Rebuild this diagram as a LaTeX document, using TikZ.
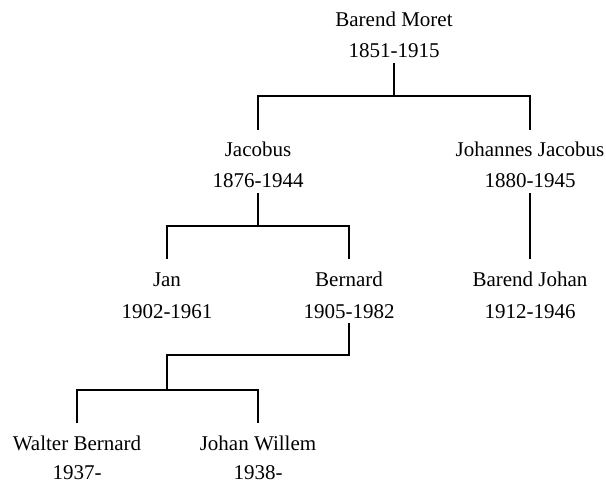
\documentclass[tikz,border=0pt]{standalone}
\usepackage{fontspec}
\setmainfont{Liberation Serif}
\begin{document}
\begin{tikzpicture}[x=1bp,y=-1bp,
  namebox/.style={inner sep=0pt, anchor=base, text height=27bp, text depth=0pt, font=\fontsize{21bp}{25bp}\selectfont},
  datebox/.style={inner sep=0pt, anchor=base, text height=15bp, text depth=5bp, font=\fontsize{21bp}{25bp}\selectfont},
  lastdate/.style={datebox, text depth=0pt},
  link/.style={draw=black, line width=2bp}]
\useasboundingbox (0,0) rectangle (606,483);
% generation 1
\node[namebox] (bmN) at (394,27) {Barend Moret};
\node[datebox] (bmD) at (394,58) {1851-1915};
% generation 2
\node[namebox] (jaN) at (258,157) {Jacobus};
\node[datebox] (jaD) at (258,188) {1876-1944};
\node[namebox] (jjN) at (530,157) {Johannes Jacobus};
\node[datebox] (jjD) at (530,188) {1880-1945};
% generation 3
\node[namebox] (jnN) at (167,286) {Jan};
\node[datebox] (jnD) at (167,318) {1902-1961};
\node[namebox] (beN) at (349,286) {Bernard};
\node[datebox] (beD) at (349,318) {1905-1982};
\node[namebox] (bjN) at (530,286) {Barend Johan};
\node[datebox] (bjD) at (530,318) {1912-1946};
% generation 4
\node[namebox] (wbN) at (77,450) {Walter Bernard};
\node[lastdate] (wbD) at (77,479) {1937-};
\node[namebox] (jwN) at (258,450) {Johan Willem};
\node[lastdate] (jwD) at (258,479) {1938-};
% junctions
\coordinate (bmJ) at (394,96);
\coordinate (jaJ) at (258,226);
\coordinate (beJ) at (167,390);
% connectors
\draw[link] (bmD.south) -- (bmJ);
\draw[link] (jaN.north) |- (bmJ) -| (jjN.north);
\draw[link] (jaD.south) -- (jaJ);
\draw[link] (jnN.north) |- (jaJ) -| (beN.north);
\draw[link] (jjD.south) -- (bjN.north);
\draw[link] (beD.south) -- ++(0,32) -| (beJ);
\draw[link] (wbN.north) |- (beJ) -| (jwN.north);
\end{tikzpicture}
\end{document}
